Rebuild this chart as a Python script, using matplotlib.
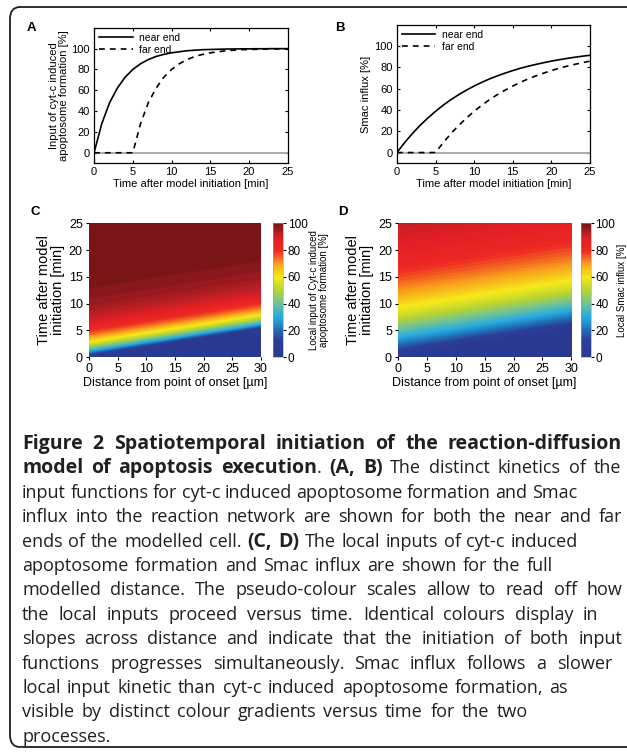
import numpy as np
import matplotlib
matplotlib.use("Agg")
import matplotlib.pyplot as plt
from matplotlib.colors import LinearSegmentedColormap
from matplotlib.patches import FancyBboxPatch

plt.rcParams["font.family"] = ["Liberation Sans", "DejaVu Sans"]

# values (percent, 1 min steps)
time_min = list(range(26))
cytc_near = [0, 28, 48, 62, 72.5, 80, 85.5, 89.5, 92.5, 94.5, 96, 97, 98, 98.5, 99,
             99.2, 99.4, 99.6, 99.7, 99.8, 99.8, 99.9, 99.9, 100, 100, 100]
cytc_far = [0, 0, 0, 0, 0, 0, 28, 48, 62, 72.5, 80, 85.5, 89.5, 92.5, 94.5, 96, 97,
            98, 98.5, 99, 99.2, 99.4, 99.6, 99.7, 99.8, 99.8]
smac_near = [0, 9.3, 17.8, 25.5, 32.4, 38.7, 44.5, 49.7, 54.4, 58.6, 62.5, 66, 69.2,
             72, 74.6, 77, 79.2, 81.1, 82.8, 84.4, 85.9, 87.2, 88.4, 89.5, 90.5, 91.4]
smac_far = [0, 0, 0, 0, 0, 0, 9.3, 17.8, 25.5, 32.4, 38.7, 44.5, 49.7, 54.4, 58.6,
            62.5, 66, 69.2, 72, 74.6, 77, 79.2, 81.1, 82.8, 84.4, 85.9]
cell_length = 30      # um
far_end_delay = 5     # min, onset delay at the far end

cmap = LinearSegmentedColormap.from_list("apo", [
    (0.0, "#2b3990"), (0.12, "#2c3f98"), (0.2, "#1f6fb6"), (0.3, "#29abe2"),
    (0.4, "#6cc29a"), (0.5, "#b8d433"), (0.6, "#f7ea1a"), (0.7, "#f8a01d"),
    (0.8, "#ee2a24"), (0.88, "#e41f26"), (0.94, "#b41f24"), (1.0, "#7a1518")], N=64)

fig = plt.figure(figsize=(6.27, 7.52), dpi=100)

# outer rounded frame (right side runs off the page)
frame = FancyBboxPatch((10 / 627, 5 / 752), 640 / 627, 740 / 752,
                       boxstyle="round,pad=0,rounding_size=0.016",
                       transform=fig.transFigure, fill=False, lw=1.3, ec="#231f20")
fig.patches.append(frame)


def line_panel(rect, near, far, ylabel, letter, lx):
    ax = fig.add_axes(rect)
    ax.plot([0, 25], [0, 0], color="#a6a6a6", lw=1.3)
    ax.plot(time_min, near, "k-", lw=1.2, label="near end")
    ax.plot(time_min, far, "k--", lw=1.2, label="far end", dashes=(3.5, 3))
    ax.set_xlim(0, 25)
    ax.set_ylim(-10, 120)
    ax.set_xticks(range(0, 26, 5))
    ax.set_yticks(range(0, 101, 20))
    ax.tick_params(direction="in", length=2.5, labelsize=8, top=True, right=True, pad=3)
    ax.set_xlabel("Time after model initiation [min]", fontsize=8, labelpad=1)
    ax.set_ylabel(ylabel, fontsize=8, labelpad=2, linespacing=1.0)
    for s in ax.spines.values():
        s.set_linewidth(0.9)
    ax.legend(loc="upper left", frameon=False, fontsize=7.5, handlelength=3.2,
              borderaxespad=0.1, labelspacing=0.15, handletextpad=0.6)
    fig.text(lx / 627, 1 - 28 / 752, letter, fontsize=9.5, fontweight="bold",
             va="center", ha="center")
    return ax


line_panel([0.150, 0.783, 0.309, 0.180], cytc_near, cytc_far,
           "Input of cyt-c induced\napoptosome formation [%]", "A", 31)
line_panel([0.633, 0.783, 0.308, 0.184], smac_near, smac_far, "Smac influx [%]", "B", 340)


def map_panel(rect, cbrect, near, cblabel, letter, lx):
    ax = fig.add_axes(rect)
    dist = np.linspace(0, cell_length, 151)
    tt = np.linspace(0, 25, 501)
    delay = dist / cell_length * far_end_delay
    field = np.array([np.interp(tt - d, time_min, near, left=0) for d in delay]).T
    im = ax.imshow(field, origin="lower", extent=[0, cell_length, 0, 25], aspect="auto",
                   cmap=cmap, vmin=0, vmax=100, interpolation="bilinear")
    ax.set_xticks(range(0, 31, 5))
    ax.set_yticks(range(0, 26, 5))
    ax.tick_params(direction="out", length=2.5, labelsize=9, pad=2, width=0.8)
    ax.set_xlabel("Distance from point of onset [\u00b5m]", fontsize=9, labelpad=1)
    ax.set_ylabel("Time after model\ninitiation [min]", fontsize=10.5, labelpad=3,
                  linespacing=1.0)
    for s in ax.spines.values():
        s.set_visible(False)
    cax = fig.add_axes(cbrect)
    cb = fig.colorbar(im, cax=cax, ticks=range(0, 101, 20))
    cb.outline.set_linewidth(0.4)
    cb.outline.set_edgecolor("#999999")
    cax.tick_params(labelsize=8.5, length=2, pad=1.5)
    cb.set_label(cblabel, fontsize=7, labelpad=1, linespacing=1.0)
    fig.text(lx / 627, 1 - 212 / 752, letter, fontsize=9.5, fontweight="bold",
             va="center", ha="center")


map_panel([0.142, 0.525, 0.274, 0.178], [0.435, 0.525, 0.016, 0.178], cytc_near,
          "Local input of Cyt-c induced\napoptosome formation [%]", "C", 35)
map_panel([0.635, 0.525, 0.276, 0.178], [0.926, 0.525, 0.016, 0.178], smac_near,
          "Local Smac influx [%]", "D", 343)

# caption: (text, weight) segments per line, and where each line ends in the reference
B, N = "bold", "normal"
caption = [
    [("Figure 2 Spatiotemporal initiation of the reaction-diffusion", B)],
    [("model of apoptosis execution", B), (". ", N), ("(A, B)", B),
     (" The distinct kinetics of the", N)],
    [("input functions for cyt-c induced apoptosome formation and Smac", N)],
    [("influx into the reaction network are shown for both the near and far", N)],
    [("ends of the modelled cell. ", N), ("(C, D)", B), (" The local inputs of cyt-c induced", N)],
    [("apoptosome formation and Smac influx are shown for the full", N)],
    [("modelled distance. The pseudo-colour scales allow to read off how", N)],
    [("the local inputs proceed versus time. Identical colours display in", N)],
    [("slopes across distance and indicate that the initiation of both input", N)],
    [("functions progresses simultaneously. Smac influx follows a slower", N)],
    [("local input kinetic than cyt-c induced apoptosome formation, as", N)],
    [("visible by distinct colour gradients versus time for the two", N)],
    [("processes.", N)],
]
line_right_px = [622, 621, 577, 622, 578, 553, 622, 598, 622, 612, 568, 528, None]
cap_size = {N: 13, B: 14}
cap_kw = dict(family=["Open Sans", "DejaVu Sans"], color="#231f20", va="baseline")

renderer = fig.canvas.get_renderer()


def cap_text(x, y, s, w):
    return fig.text(x, y, s, fontweight=w, fontsize=cap_size[w], **cap_kw)


def text_width(s, w):
    t = cap_text(0, 0, s, w)
    wd = t.get_window_extent(renderer).width
    t.remove()
    return wd


space_px = text_width("x x", N) - text_width("xx", N)
left_px = 22
for i, segs in enumerate(caption):
    y = 1 - (449 + i * 24.4) / 752
    words, cur = [], []
    for txt, w in segs:
        parts = txt.split(" ")
        for j, p in enumerate(parts):
            if j > 0 and cur:
                words.append(cur)
                cur = []
            if p:
                cur.append((p, w))
    if cur:
        words.append(cur)
    widths = [[text_width(p, w) for p, w in wd] for wd in words]
    natural = sum(sum(ws) for ws in widths) + space_px * (len(words) - 1)
    gap = space_px
    if line_right_px[i] is not None and len(words) > 1:
        gap = space_px + (line_right_px[i] - left_px - natural) / (len(words) - 1)
    x = left_px
    for wd, ws in zip(words, widths):
        for (p, w), pw in zip(wd, ws):
            cap_text(x / 627, y, p, w)
            x += pw
        x += gap

fig.savefig("out.png", dpi=100)
